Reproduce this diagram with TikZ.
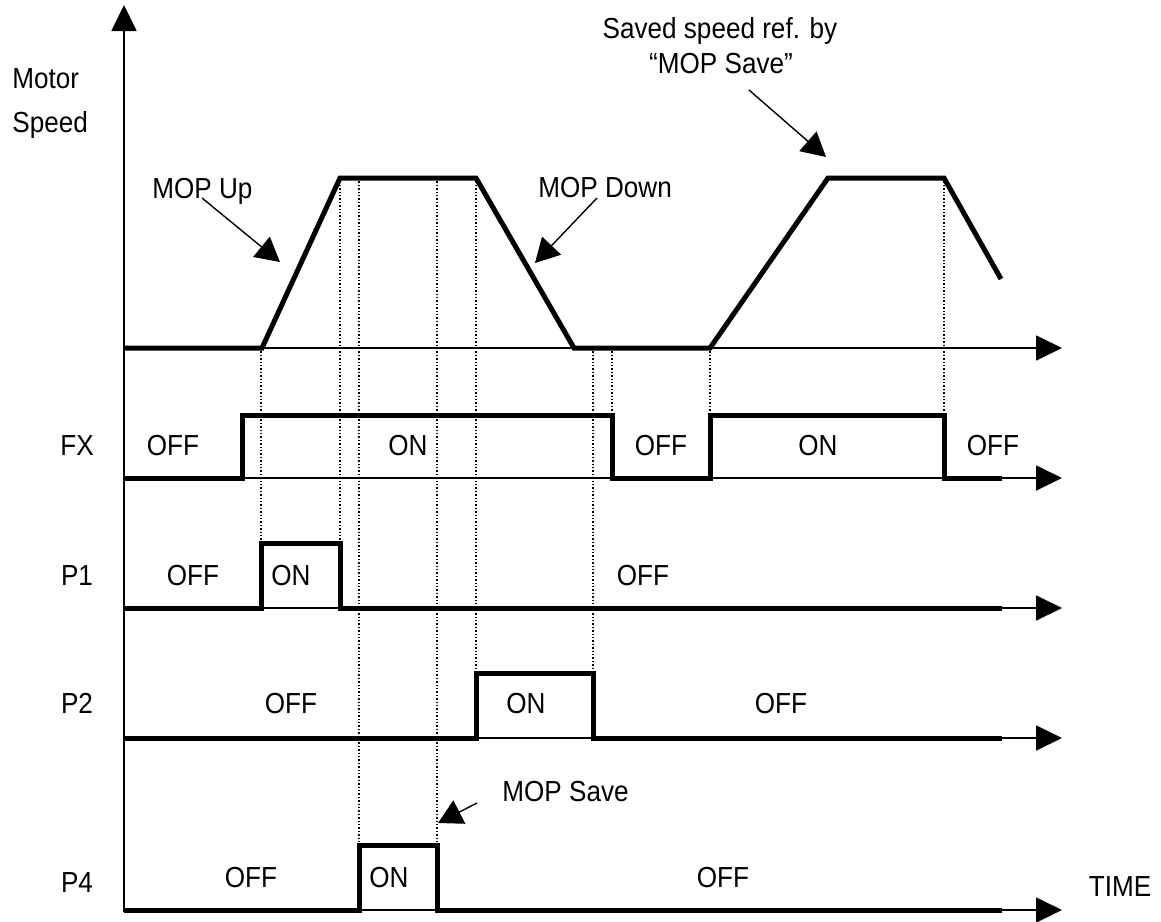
\documentclass[tikz,border=0pt]{standalone}
\usepackage{fontspec}
\setmainfont{Liberation Sans}[FakeStretch=0.9]
\usetikzlibrary{arrows.meta}

\begin{document}
\begin{tikzpicture}[x=0.5pt, y=-0.5pt,
    axisline/.style={line width=0.9pt, -{Triangle[length=13pt, width=12.5pt]}},
    wave/.style={line width=2.5pt},
    guide/.style={line width=0.7pt, densely dotted},
    callout/.style={line width=0.7pt, -{Triangle[length=12pt, width=13pt]}},
    txt/.style={font=\fontsize{14.5}{17}\selectfont, inner sep=0pt, anchor=base}
  ]
  \useasboundingbox (0,0) rectangle (1161,921);

  % dotted guides
  \draw[guide] (261,348) -- (261,543);
  \draw[guide] (340,178) -- (340,543);
  \draw[guide] (359,178) -- (359,845);
  \draw[guide] (437,178) -- (437,845);
  \draw[guide] (476,178) -- (476,673);
  \draw[guide] (593,348) -- (593,673);
  \draw[guide] (612,348) -- (612,415);
  \draw[guide] (710,348) -- (710,415);
  \draw[guide] (944,178) -- (944,415);

  % axes
  \draw[axisline] (124,912) -- (124,5);
  \draw[axisline] (124,348) -- (1062,348);
  \draw[axisline] (124,478) -- (1062,478);
  \draw[axisline] (124,608) -- (1062,608);
  \draw[axisline] (124,738) -- (1062,738);
  \draw[axisline] (124,910) -- (1062,910);

  % signals
  \draw[wave] (124,348) -- (262,348) -- (340,178) -- (476,178) -- (574,348)
    -- (710,348) -- (828,178) -- (944,178) -- (1001,279);
  \draw[wave] (124,478) -- (242,478) -- (242,415) -- (612,415) -- (612,478)
    -- (710,478) -- (710,415) -- (944,415) -- (944,478) -- (1002,478);
  \draw[wave] (124,608) -- (261,608) -- (261,543) -- (340,543) -- (340,608) -- (1002,608);
  \draw[wave] (124,738) -- (476,738) -- (476,673) -- (593,673) -- (593,738) -- (1002,738);
  \draw[wave] (124,910) -- (359,910) -- (359,845) -- (437,845) -- (437,910) -- (1002,910);

  % labels
  \node[txt, anchor=base west] (motor) at (12,88) {Motor};
  \node[txt, anchor=base west] (speed) at (12,132) {Speed};
  \node[txt] (fx) at (77,455) {FX};
  \node[txt] (p1) at (77,585) {P1};
  \node[txt] (p2) at (77,713) {P2};
  \node[txt] (p4) at (77,892) {P4};
  \node[txt] (time) at (1120,896) {TIME};

  \node[txt] (fxoff1) at (173,455) {OFF};
  \node[txt] (fxon1) at (408,455) {ON};
  \node[txt] (fxoff2) at (661,455) {OFF};
  \node[txt] (fxon2) at (818,455) {ON};
  \node[txt] (fxoff3) at (993,455) {OFF};

  \node[txt] (p1off1) at (193,585) {OFF};
  \node[txt] (p1on) at (291,585) {ON};
  \node[txt] (p1off2) at (643,585) {OFF};

  \node[txt] (p2off1) at (291,713) {OFF};
  \node[txt] (p2on) at (526,713) {ON};
  \node[txt] (p2off2) at (781,713) {OFF};

  \node[txt] (p4off1) at (251,887) {OFF};
  \node[txt] (p4on) at (389,887) {ON};
  \node[txt] (p4off2) at (723,887) {OFF};

  \node[txt, anchor=base west] (mopup) at (152,198) {MOP Up};
  \node[txt, anchor=base west] (mopdown) at (538,197) {MOP Down};
  \node[txt, anchor=base west] (mopsave) at (502,801) {MOP Save};
  \node[txt] (saved) at (720,38) {Saved speed ref. by};
  \node[txt] (savedq) at (721,73) {“MOP Save”};

  % callouts
  \coordinate (upfrom) at (202,198);
  \coordinate (upto) at (280,262);
  \coordinate (downfrom) at (597,198);
  \coordinate (downto) at (535,263);
  \coordinate (savedfrom) at (749,90);
  \coordinate (savedto) at (826,157);
  \coordinate (savefrom) at (477,803);
  \coordinate (saveto) at (438,823);
  \draw[callout] (upfrom) -- (upto);
  \draw[callout] (downfrom) -- (downto);
  \draw[callout] (savedfrom) -- (savedto);
  \draw[callout] (savefrom) -- (saveto);
\end{tikzpicture}
\end{document}
